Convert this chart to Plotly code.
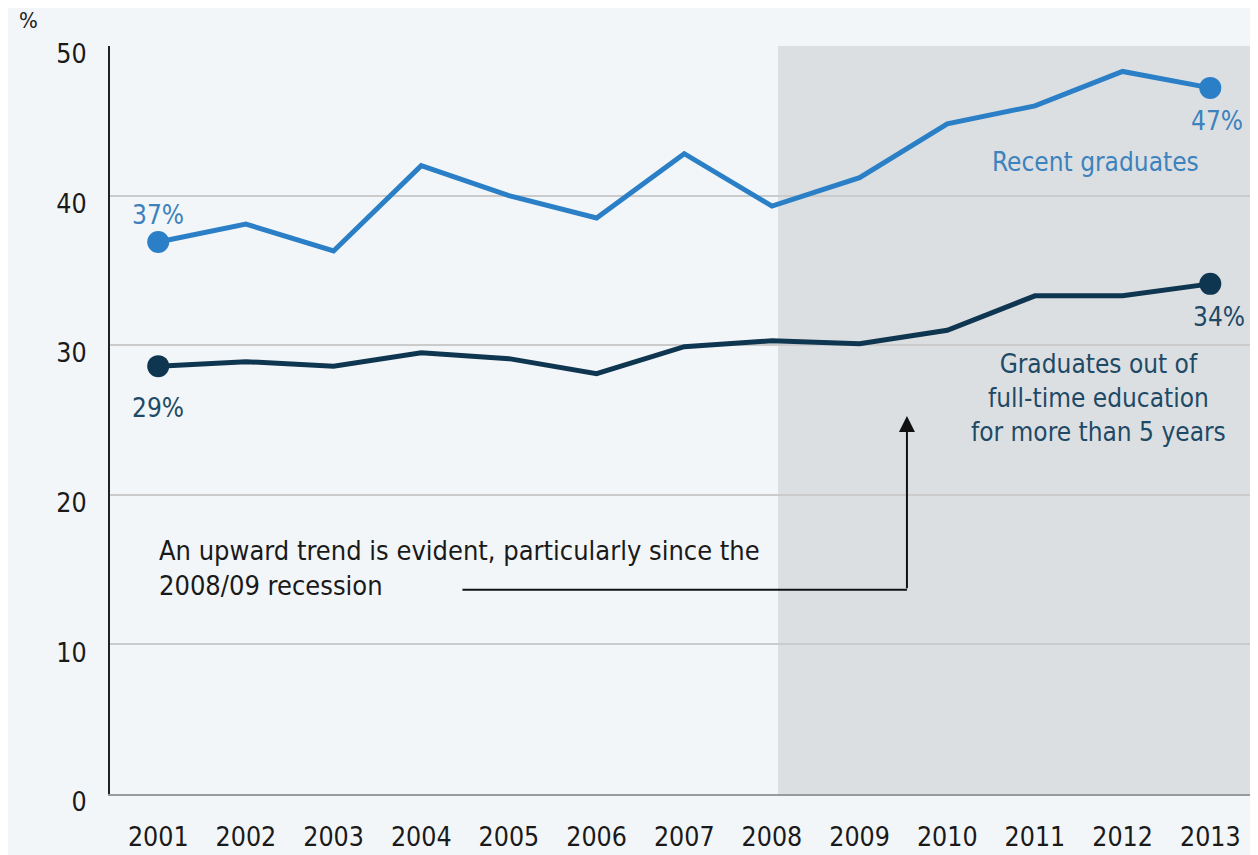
import plotly.graph_objects as go

years = [2001, 2002, 2003, 2004, 2005, 2006, 2007, 2008, 2009, 2010, 2011, 2012, 2013]
recent_graduates = [36.9, 38.1, 36.3, 42.0, 40.0, 38.5, 42.8, 39.3, 41.2, 44.8, 46.0, 48.3, 47.2]
older_graduates = [28.6, 28.9, 28.6, 29.5, 29.1, 28.1, 29.9, 30.3, 30.1, 31.0, 33.3, 33.3, 34.1]
y_ticks = [0, 10, 20, 30, 40, 50]

FONT = "DejaVu Sans Condensed, DejaVu Sans, sans-serif"
BLUE = "#2a7fc6"
NAVY = "#0f3650"
BLUE_TXT = "#3c82bd"
NAVY_TXT = "#1e4a66"

fig = go.Figure()

fig.add_trace(go.Scatter(x=years, y=recent_graduates, mode="lines",
                         line=dict(color=BLUE, width=5), hoverinfo="skip", showlegend=False))
fig.add_trace(go.Scatter(x=years, y=older_graduates, mode="lines",
                         line=dict(color=NAVY, width=5), hoverinfo="skip", showlegend=False))
fig.add_trace(go.Scatter(x=[years[0], years[-1]], y=[recent_graduates[0], recent_graduates[-1]],
                         mode="markers", marker=dict(color=BLUE, size=22), showlegend=False))
fig.add_trace(go.Scatter(x=[years[0], years[-1]], y=[older_graduates[0], older_graduates[-1]],
                         mode="markers", marker=dict(color=NAVY, size=22), showlegend=False))

# recession shading
fig.add_shape(type="rect", xref="x", yref="y", x0=2008.07, x1=2013.51, y0=0, y1=50,
              fillcolor="#dcdfe2", line=dict(width=0), layer="below")

# arrow horizontal segment
fig.add_shape(type="line", xref="x", yref="y", x0=2004.47, x1=2009.54, y0=13.65, y1=13.65,
              line=dict(color="#111111", width=2))
fig.add_annotation(x=2009.54, y=25.27, ax=2009.54, ay=13.65, xref="x", yref="y",
                   axref="x", ayref="y", showarrow=True, arrowhead=2, arrowsize=1.6,
                   arrowwidth=2, arrowcolor="#111111", text="")

def label(text, x, y, color, xanchor="center", size=26):
    fig.add_annotation(x=x, y=y, xref="x", yref="y", text=text, showarrow=False,
                       xanchor=xanchor, yanchor="middle",
                       font=dict(family=FONT, size=size, color=color))

label("37%", years[0], 38.73, BLUE_TXT)
label("29%", years[0], 25.78, NAVY_TXT)
label("47%", years[-1] + 0.08, 45.0, BLUE_TXT)
label("34%", years[-1] + 0.1, 31.9, NAVY_TXT)
label("Recent graduates", 2011.69, 42.27, BLUE_TXT)
label("Graduates out of<br>full-time education<br>for more than 5 years", 2011.72, 26.47, NAVY_TXT)

fig.add_annotation(x=2000.99, y=15.1, xref="x", yref="y", xanchor="left", yanchor="middle",
                   align="left", showarrow=False,
                   text="An upward trend is evident, particularly since the<br>2008/09 recession",
                   font=dict(family=FONT, size=27, color="#1a1a1a"))

fig.add_annotation(xref="paper", yref="paper", x=-0.071, y=1.0346, text="%", showarrow=False,
                   xanchor="center", yanchor="middle",
                   font=dict(family=FONT, size=22, color="#222222"))

fig.update_layout(
    width=1250, height=847,
    margin=dict(l=102, r=3, t=38, b=58),
    paper_bgcolor="#f3f6f9", plot_bgcolor="#f3f6f9",
    font=dict(family=FONT, size=26, color="#1a1a1a"),
    showlegend=False,
)
fig.update_xaxes(range=[2000.45, 2013.51], tickvals=years, ticktext=[str(y) for y in years],
                 showgrid=False, zeroline=False, showline=True, linecolor="#9a9a9a", linewidth=2,
                 ticks="", ticklabelstandoff=18, tickfont=dict(family=FONT, size=26.5, color="#1a1a1a"))
fig.update_yaxes(range=[0, 50], tickvals=y_ticks, showgrid=True, gridcolor="#cbcbcb", gridwidth=2,
                 zeroline=False, showline=True, linecolor="#222222", linewidth=2,
                 ticks="", ticklabelstandoff=16, ticklabelshift=8,
                 tickfont=dict(family=FONT, size=26.5, color="#1a1a1a"))

fig.write_html("out.html")
